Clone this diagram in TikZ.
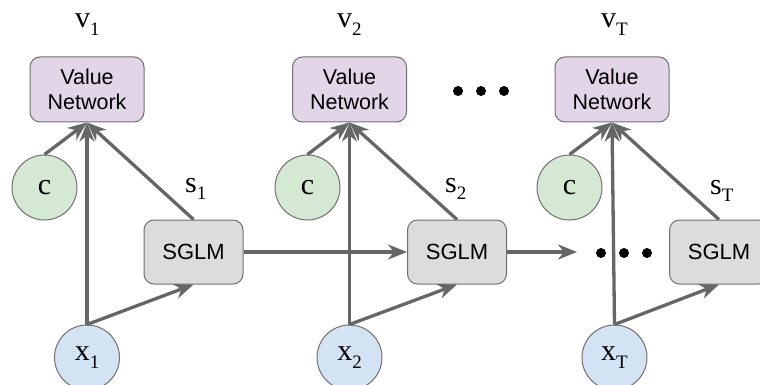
\documentclass[tikz,border=0pt]{standalone}
\usepackage{fontspec}
\setmainfont{Liberation Serif}
\setsansfont{Liberation Sans}
\usetikzlibrary{arrows.meta}

\definecolor{vnfill}{HTML}{E1D5E7}
\definecolor{sgfill}{HTML}{DCDCDC}
\definecolor{cfill}{HTML}{D5E8D4}
\definecolor{xfill}{HTML}{D3E3F4}
\definecolor{edgegray}{HTML}{666666}
\definecolor{rimgray}{HTML}{707070}

% symbol with a lowered subscript, set in text fonts
\newcommand\symlab[2]{{\fontsize{30}{30}\selectfont #1}\raisebox{-7.5pt}{\fontsize{19}{19}\selectfont #2}}

\begin{document}
\begin{tikzpicture}[x=1pt,y=-1pt,
  valuebox/.style={draw=rimgray, line width=1pt, fill=vnfill, rounded corners=10pt,
    minimum width=114pt, minimum height=65pt, align=center, inner sep=0pt,
    font=\sffamily\fontsize{21.5}{25}\selectfont},
  sglmbox/.style={draw=rimgray, line width=1pt, fill=sgfill, rounded corners=10pt,
    minimum width=99pt, minimum height=64pt, inner sep=0pt,
    font=\sffamily\fontsize{22}{25}\selectfont},
  cnode/.style={circle, draw=rimgray, line width=1pt, fill=cfill, minimum size=65pt, inner sep=0pt},
  xnode/.style={circle, draw=rimgray, line width=1pt, fill=xfill, minimum size=65pt, inner sep=0pt},
  lab/.style={anchor=base west, inner sep=0pt},
  flow/.style={draw=edgegray, line width=3.3pt, -{Stealth[length=19pt,width=15pt,inset=6pt]}},
  bigdot/.style={circle, fill=black, minimum size=10pt, inner sep=0pt}
]
\useasboundingbox (0,0) rectangle (760,385);
\clip (0,0) rectangle (760,385);

% ---- step 1 ----
\node[valuebox] (vn1) at (87,89.5) {Value\\Network};
\node[cnode] (c1) at (44.5,187.5) {\fontsize{30}{30}\selectfont c};
\node[xnode] (x1) at (87,357.5) {\symlab{x}{1}};
\node[sglmbox] (sg1) at (193.5,252) {SGLM};
\node[lab] (lv1) at (75,28) {\symlab{v}{1}};
\node[lab] (ls1) at (185,192) {\symlab{s}{1}};

% ---- step 2 ----
\node[valuebox] (vn2) at (349.5,89.5) {Value\\Network};
\node[cnode] (c2) at (307.5,187.5) {\fontsize{30}{30}\selectfont c};
\node[xnode] (x2) at (349.5,357.5) {\symlab{x}{2}};
\node[sglmbox] (sg2) at (457,252) {SGLM};
\node[lab] (lv2) at (337,28) {\symlab{v}{2}};
\node[lab] (ls2) at (445,192) {\symlab{s}{2}};

% ---- step T ----
\node[valuebox] (vn3) at (612,89.5) {Value\\Network};
\node[cnode] (c3) at (569.5,187.5) {\fontsize{30}{30}\selectfont c};
\node[xnode] (x3) at (614.5,357.5) {\symlab{x}{T}};
\node[sglmbox] (sg3) at (719,252) {SGLM};
\node[lab] (lv3) at (601,28) {\symlab{v}{T}};
\node[lab] (ls3) at (710,194) {\symlab{s}{T}};

% ellipses
\node[bigdot] (ta) at (458,91) {};
\node[bigdot] (tb) at (481,91) {};
\node[bigdot] (tc) at (504,91) {};
\node[bigdot] (ba) at (601,253) {};
\node[bigdot] (bb) at (624,253) {};
\node[bigdot] (bc) at (647,253) {};
\coordinate (gap) at (577,252);

% ---- connectors ----
\foreach \i in {1,2,3}{
  \draw[flow] (c\i.north) -- (vn\i.south);
  \draw[flow] (x\i.north) -- (vn\i.south);
  \draw[flow] (sg\i.north) -- (vn\i.south);
  \draw[flow] (x\i.north) -- (sg\i.south);
}
\draw[flow] (sg1.east) -- (sg2.west);
\draw[flow] (sg2.east) -- (gap);
\end{tikzpicture}
\end{document}
